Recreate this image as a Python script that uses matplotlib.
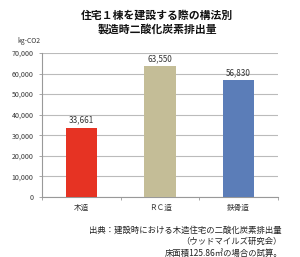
import matplotlib
matplotlib.use('Agg')
import matplotlib.pyplot as plt
import numpy as np

plt.rcParams['font.family'] = ['Noto Sans CJK JP', 'DejaVu Sans']

# Data
categories = ['木造', 'ＲＣ造', '鉄骨造']
values = [33661, 63550, 56830]
colors = ['#E63323', '#C4BD97', '#5B7DB8']
yticks = [0, 10000, 20000, 30000, 40000, 50000, 60000, 70000]

fig = plt.figure(figsize=(3.0, 2.57), dpi=100)
W, H = 300, 257
ax = fig.add_axes([42 / W, 1 - 197 / H, 236 / W, 144 / H])

x = np.arange(len(categories))
bars = ax.bar(x, values, width=0.4, color=colors, zorder=3)

ax.set_xlim(-0.5, 2.5)
ax.set_ylim(0, 70000)
ax.set_yticks(yticks)
ax.set_yticklabels([f'{v:,}' if v else '0' for v in yticks], fontsize=5.1, color='#333333')
ax.tick_params(axis='y', length=2, width=0.6, color='#999999', pad=4)
ax.grid(axis='y', color='#bbbbbb', linewidth=0.8, zorder=0)

# category labels, ticks between categories
ax.set_xticks([-0.5, 0.5, 1.5, 2.5])
ax.set_xticklabels([])
ax.tick_params(axis='x', length=2.5, width=0.6, color='#999999')
for xi, c in zip(x, categories):
    ax.text(xi, -5500, c, ha='center', va='center', fontsize=5.5, color='#333333')

for s in ['top', 'right']:
    ax.spines[s].set_visible(False)
for s in ['left', 'bottom']:
    ax.spines[s].set_color('#999999')
    ax.spines[s].set_linewidth(0.8)

for b, v in zip(bars, values):
    ax.text(b.get_x() + b.get_width() / 2, v + 1500, f'{v:,}',
            ha='center', va='bottom', fontsize=5.8, color='#333333')

fig.text(157 / W, 1 - 15 / H, '住宅１棟を建設する際の構法別', ha='center', va='center',
         fontsize=7.8, fontweight='bold', color='#111111')
fig.text(157 / W, 1 - 29 / H, '製造時二酸化炭素排出量', ha='center', va='center',
         fontsize=7.8, fontweight='bold', color='#111111')
fig.text(29 / W, 1 - 41 / H, 'kg-CO2', ha='center', va='center', fontsize=4.9, color='#333333')

src = ['出典：建設時における木造住宅の二酸化炭素排出量',
       '（ウッドマイルズ研究会）',
       '床面積125.86㎡の場合の試算。']
for i, t in enumerate(src):
    fig.text(282 / W, 1 - (230 + 11.5 * i) / H, t, ha='right', va='center',
             fontsize=6, color='#222222')

fig.savefig('out.png', dpi=100, facecolor='white')
